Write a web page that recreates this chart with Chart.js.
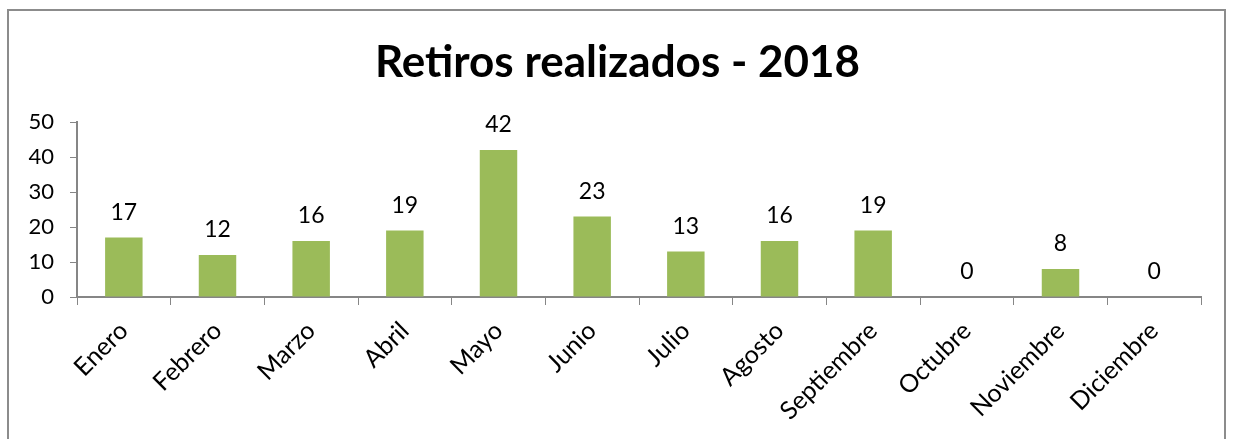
<!DOCTYPE html>
<html>
<head>
<meta charset="utf-8">
<script src="https://cdn.jsdelivr.net/npm/chart.js@4.4.1/dist/chart.umd.min.js"></script>
<style>
  html, body { margin: 0; padding: 0; background: #fff; }
  #wrap { position: relative; width: 1235px; height: 439px; overflow: hidden; }
  #frame { position: absolute; left: 7px; top: 9px; width: 1219px; height: 460px; border: 2px solid #8c8c8c; box-sizing: border-box; pointer-events: none; }
  canvas { position: absolute; left: 0; top: 0; }
</style>
</head>
<body>
<div id="wrap">
  <canvas id="chart" width="1235" height="439"></canvas>
  <div id="frame"></div>
</div>
<script>
const months = ['Enero', 'Febrero', 'Marzo', 'Abril', 'Mayo', 'Junio', 'Julio', 'Agosto', 'Septiembre', 'Octubre', 'Noviembre', 'Diciembre'];
const retiros = [17, 12, 16, 19, 42, 23, 13, 16, 19, 0, 8, 0];
const chartTitle = 'Retiros realizados - 2018';

const FONT = 'Lato, "Open Sans", sans-serif';
const AXIS_GREY = '#868686';

// value labels above each bar + title centred on the whole frame
const barLabels = {
  id: 'barLabels',
  afterDatasetsDraw(chart) {
    const ctx = chart.ctx;
    const meta = chart.getDatasetMeta(0);
    ctx.save();
    ctx.font = '23px ' + FONT;
    ctx.fillStyle = '#000';
    ctx.textAlign = 'center';
    ctx.textBaseline = 'alphabetic';
    meta.data.forEach((bar, i) => {
      ctx.fillText(String(chart.data.datasets[0].data[i]), bar.x, bar.y - 18);
    });
    ctx.font = 'bold 44px ' + FONT;
    ctx.fillText(chartTitle, chart.width / 2, 77);
    ctx.restore();
  }
};

new Chart(document.getElementById('chart'), {
  type: 'bar',
  data: {
    labels: months,
    datasets: [{ data: retiros, backgroundColor: '#9BBB59', categoryPercentage: 1, barPercentage: 0.4 }]
  },
  options: {
    responsive: false,
    animation: false,
    devicePixelRatio: 1,
    layout: { padding: { left: 8, right: 34, top: 122, bottom: 0 } },
    plugins: {
      legend: { display: false },
      tooltip: { enabled: false },
      title: { display: false }
    },
    scales: {
      x: {
        grid: { drawOnChartArea: false, drawTicks: true, tickLength: 8, color: AXIS_GREY, offset: true },
        border: { display: true, color: AXIS_GREY, width: 2 },
        ticks: { color: '#000', font: { family: FONT, size: 25 }, minRotation: 45, maxRotation: 45, autoSkip: false, padding: 11 },
        afterFit(scale) { scale.height = 142; }
      },
      y: {
        min: 0, max: 50,
        grid: { drawOnChartArea: false, drawTicks: true, tickLength: 7, color: AXIS_GREY },
        border: { display: true, color: AXIS_GREY, width: 2 },
        ticks: { stepSize: 10, color: '#000', font: { family: FONT, size: 22 }, padding: 16 },
        afterFit(scale) { scale.width = 69; }
      }
    }
  },
  plugins: [barLabels]
});
</script>
</body>
</html>
